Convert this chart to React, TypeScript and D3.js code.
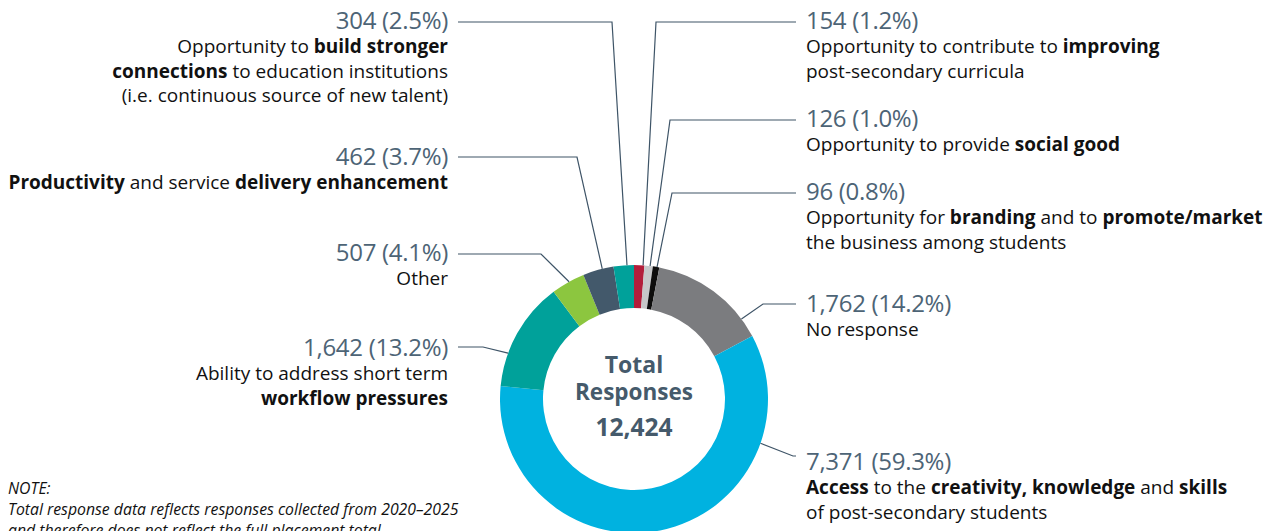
import React from "react";
import * as d3 from "d3";

// ---------- data ----------
const categories = [
  "Opportunity to contribute to improving post-secondary curricula",
  "Opportunity to provide social good",
  "Opportunity for branding and to promote/market the business among students",
  "No response",
  "Access to the creativity, knowledge and skills of post-secondary students",
  "Ability to address short term workflow pressures",
  "Other",
  "Productivity and service delivery enhancement",
  "Opportunity to build stronger connections to education institutions",
];
const values = [154, 126, 96, 1762, 7371, 1642, 507, 462, 304];
const percentLabels = ["1.2%", "1.0%", "0.8%", "14.2%", "59.3%", "13.2%", "4.1%", "3.7%", "2.5%"];
const labelLines = [
  ["Opportunity to contribute to **improving**", "post-secondary curricula"],
  ["Opportunity to provide **social good**"],
  ["Opportunity for **branding** and to **promote/market**", "the business among students"],
  ["No response"],
  ["**Access** to the **creativity, knowledge** and **skills**", "of post-secondary students"],
  ["Ability to address short term", "**workflow pressures**"],
  ["Other"],
  ["**Productivity** and service **delivery enhancement**"],
  ["Opportunity to **build stronger**", "**connections** to education institutions", "(i.e. continuous source of new talent)"],
];
const colors = ["#b31e3b", "#c6c7c9", "#0d0d0d", "#7b7c7f", "#00b2e0", "#00a19a", "#8cc63f", "#43596b", "#00a19a"];
const totalLabel = ["Total", "Responses"];
const noteLines = [
  "NOTE:",
  "Total response data reflects responses collected from 2020–2025",
  "and therefore does not reflect the full placement total.",
];

// ---------- layout ----------
const W = 1269, H = 531;
const cx = 634, cy = 399, R = 134, r0 = 91;
const leftX = 448, rightX = 806, leftLineX = 458, rightLineX = 796;
const layout = [
  { side: "R", y: 29, lineY: 22, elbowX: 656, angle: 3.9 },
  { side: "R", y: 127, lineY: 120, elbowX: 670, angle: 6.9 },
  { side: "R", y: 200, lineY: 193, elbowX: 672, angle: 9.9 },
  { side: "R", y: 312, lineY: 304, elbowX: 763, angle: 53.3 },
  { side: "R", y: 470, lineY: 456, elbowX: 793, angle: 109.3 },
  { side: "L", y: 356, lineY: 347, elbowX: 483, angle: 290 },
  { side: "L", y: 261, lineY: 254, elbowX: 541, angle: 331 },
  { side: "L", y: 165, lineY: 157, elbowX: 577, angle: 346.3 },
  { side: "L", y: 29, lineY: 22, elbowX: 612, angle: 357 },
];
const FONT = "'Open Sans', sans-serif";
const valueColor = "#4d6476";
const lineColor = "#3e5467";
const centerColor = "#455a6b";

function parseRich(s: string) {
  const parts = s.split("**");
  return parts.map((t, i) => ({ t, b: i % 2 === 1 })).filter((p) => p.t.length);
}

export default function App() {
  const pie = d3.pie<number>().sort(null).value((d) => d)(values);
  const arc = d3.arc<d3.PieArcDatum<number>>().innerRadius(r0).outerRadius(R);
  const fmt = d3.format(",");
  const total = d3.sum(values);

  return (
    <svg width={W} height={H} style={{ position: "absolute", left: 0, top: 0 }} fontFamily={FONT}>
      <g transform={`translate(${cx},${cy})`}>
        {pie.map((p, i) => (
          <path key={i} d={arc(p) || ""} fill={colors[i]} />
        ))}
      </g>
      {layout.map((L, i) => {
        const a = (L.angle * Math.PI) / 180;
        const ex = cx + R * Math.sin(a);
        const ey = cy - R * Math.cos(a);
        const endX = L.side === "L" ? leftLineX : rightLineX;
        const pts: [number, number][] = [[endX, L.lineY], [L.elbowX, L.lineY], [ex, ey]];
        const lineGen = d3.line();
        const tx = L.side === "L" ? leftX : rightX;
        const anchor = L.side === "L" ? "end" : "start";
        return (
          <g key={i}>
            <path d={lineGen(pts) || ""} fill="none" stroke={lineColor} strokeWidth={1.2} />
            <text x={tx} y={L.y} textAnchor={anchor} fontSize={24} fill={valueColor} fontWeight={400} letterSpacing={-0.3}>
              {`${fmt(values[i])} (${percentLabels[i]})`}
            </text>
            {labelLines[i].map((ln, j) => (
              <text key={j} x={tx} y={L.y + 24 + j * 24.5} textAnchor={anchor} fontSize={19} fill="#111">
                {parseRich(ln).map((s, k) => (
                  <tspan key={k} fontWeight={s.b ? 700 : 400}>{s.t}</tspan>
                ))}
              </text>
            ))}
          </g>
        );
      })}
      <g fill={centerColor} fontWeight={700} textAnchor="middle">
        <text x={cx} y={373} fontSize={23}>{totalLabel[0]}</text>
        <text x={cx} y={400} fontSize={22.5}>{totalLabel[1]}</text>
        <text x={cx} y={436} fontSize={24.5}>{fmt(total)}</text>
      </g>
      <g fill="#111">
        {noteLines.map((t, i) => (
          <text key={i} x={8} y={494 + i * 21} fontSize={15.8} fontStyle="italic">{t}</text>
        ))}
      </g>
    </svg>
  );
}
